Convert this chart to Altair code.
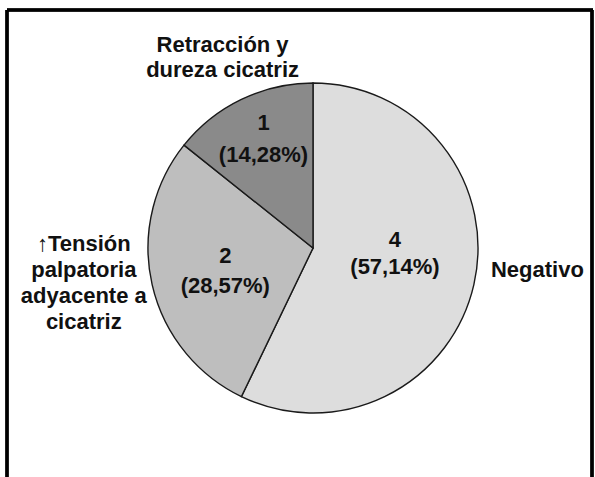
import math
import altair as alt
import pandas as pd

# Slice data, in drawing order (clockwise from 12 o'clock)
categories = [
    "Negativo",
    "↑Tensión\npalpatoria\nadyacente a\ncicatriz",
    "Retracción y\ndureza cicatriz",
]
counts = [4, 2, 1]
percent_labels = ["57,14%", "28,57%", "14,28%"]
slice_colors = ["#dddddd", "#bebebe", "#8a8a8a"]

df = pd.DataFrame({
    "idx": list(range(len(categories))),
    "cat": categories,
    "count": counts,
    "pct": percent_labels,
})
df["inner"] = [f"{n}\n({p})" for n, p in zip(counts, percent_labels)]

CX, CY, R = 313, 248, 165
FONT = "Liberation Sans"

base = alt.Chart(df)

pie = base.mark_arc(radius=R, stroke="#1a1a1a", strokeWidth=1.4).encode(
    theta=alt.Theta("count:Q", stack=True),
    color=alt.Color("cat:N", scale=alt.Scale(domain=categories, range=slice_colors), legend=None),
    order=alt.Order("idx:Q"),
    x=alt.value(CX),
    y=alt.value(CY),
)

# mid-angle of each slice as a fraction of the full turn
angles = (
    base.transform_window(cum="sum(count)", sort=[alt.SortField("idx")], frame=[None, 0])
    .transform_joinaggregate(total="sum(count)")
    .transform_calculate(frac="(datum.cum - datum.count / 2) / datum.total")
)


def label(cat, field, radius, dx, dy, line_height, size=22):
    return (
        angles.transform_filter(alt.datum.cat == cat)
        .mark_text(
            radius=radius, dx=dx, dy=dy, font=FONT, fontSize=size, fontWeight="bold",
            color="#111111", align="center", baseline="middle",
            lineBreak="\n", lineHeight=line_height,
        )
        .encode(
            theta=alt.Theta("frac:Q", scale=alt.Scale(domain=[0, 1], range=[0, 2 * math.pi])),
            text=alt.Text(f"{field}:N"),
            x=alt.value(CX),
            y=alt.value(CY),
        )
    )


inner_layers = [
    label(categories[0], "inner", 82, 2, -26, 27),
    label(categories[1], "inner", 91, 1, -12, 30),
    label(categories[2], "inner", 121, 3, -16, 32),
]
outer_layers = [
    label(categories[0], "cat", 225, 5, -28, 26),
    label(categories[1], "cat", 231, -4, -55, 26),
    label(categories[2], "cat", 213, 2, -11, 25),
]

# open frame: top, left and right edges
frame_top = base.mark_rule(color="black", strokeWidth=3).encode(
    x=alt.value(7), x2=alt.value(593), y=alt.value(10)
)
frame_left = base.mark_rule(color="black", strokeWidth=3).encode(
    x=alt.value(7), y=alt.value(10), y2=alt.value(477)
)
frame_right = base.mark_rule(color="black", strokeWidth=3).encode(
    x=alt.value(592), y=alt.value(10), y2=alt.value(477)
)

chart = (
    alt.layer(pie, *inner_layers, *outer_layers, frame_top, frame_left, frame_right)
    .resolve_scale(theta="independent")
    .properties(width=595, height=477, padding=0, autosize=alt.AutoSizeParams(type="none"),
                background="white")
    .configure_view(stroke=None)
)

chart.save("out.html", embed_options={"renderer": "svg", "actions": False})
